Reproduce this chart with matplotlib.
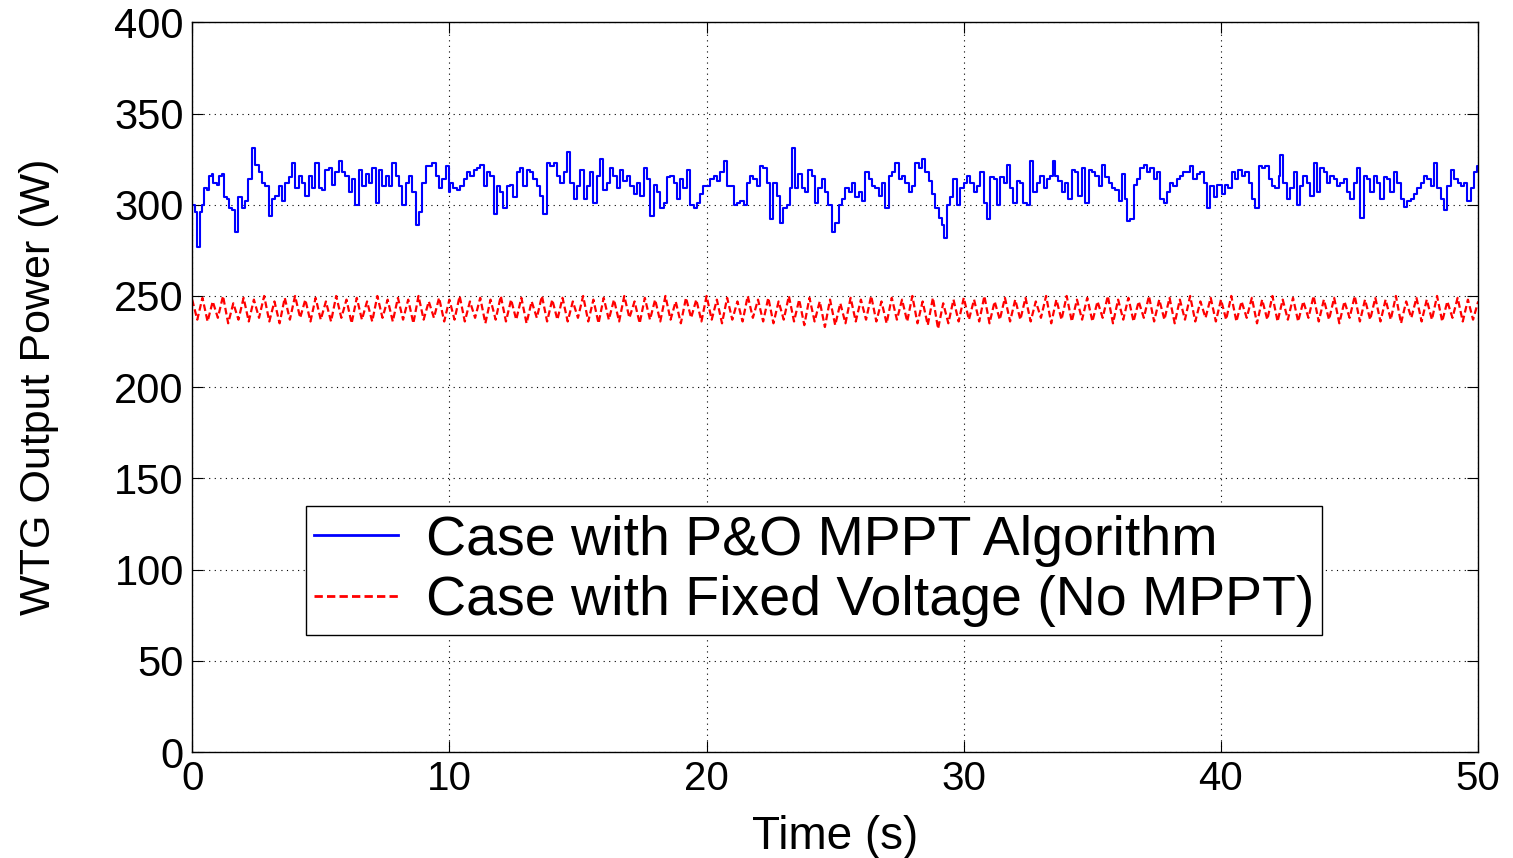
import matplotlib
matplotlib.use("Agg")
import matplotlib.pyplot as plt
import numpy as np

plt.rcParams["font.family"] = ["Liberation Sans", "DejaVu Sans"]

# Potencia con P&O MPPT (tiempo en s, potencia en W)
t_blue = [
    0.0, 0.1, 0.17, 0.3, 0.38, 0.45, 0.57, 0.64, 0.77, 0.83, 0.96, 1.03, 1.16, 1.22, 1.35, 1.42, 1.55, 1.68, 1.8, 1.94,
    2.06, 2.19, 2.32, 2.45, 2.58, 2.71, 2.84, 2.97, 3.1, 3.23, 3.36, 3.49, 3.62, 3.75, 3.88, 4.0, 4.14, 4.27, 4.4, 4.53,
    4.66, 4.79, 4.92, 5.05, 5.18, 5.31, 5.44, 5.57, 5.7, 5.83, 5.96, 6.09, 6.22, 6.35, 6.48, 6.61, 6.74, 6.87, 7.0, 7.13,
    7.26, 7.39, 7.52, 7.65, 7.78, 7.91, 8.04, 8.17, 8.3, 8.43, 8.56, 8.69, 8.82, 8.95, 9.08, 9.21, 9.34, 9.47, 9.6, 9.73,
    9.86, 9.99,
    10.03, 10.16, 10.29, 10.42, 10.55, 10.68, 10.81, 10.94, 11.07, 11.2, 11.33, 11.46, 11.59, 11.72, 11.85, 11.97, 12.1,
    12.23, 12.36, 12.49, 12.62, 12.75, 12.88, 13.01, 13.14, 13.27, 13.4, 13.53, 13.66, 13.79, 13.92, 14.05, 14.18, 14.3,
    14.44, 14.57, 14.7, 14.83, 14.96, 15.09, 15.22, 15.34, 15.47, 15.6, 15.73, 15.86, 15.99, 16.12, 16.25, 16.38, 16.51,
    16.64, 16.77, 16.9, 17.03, 17.16, 17.29, 17.42, 17.55, 17.68, 17.81, 17.94, 18.07, 18.2, 18.33, 18.46, 18.59, 18.72,
    18.85, 18.98, 19.1, 19.24, 19.37, 19.5, 19.63, 19.75, 19.88,
    20.01, 20.14, 20.27, 20.4, 20.53, 20.66, 20.79, 20.92, 21.05, 21.18, 21.31, 21.44, 21.56, 21.69, 21.82, 21.95, 22.08,
    22.21, 22.34, 22.47, 22.6, 22.73, 22.86, 22.99, 23.12, 23.25, 23.31, 23.44, 23.57, 23.7, 23.83, 23.96, 24.09, 24.22,
    24.35, 24.48, 24.61, 24.74, 24.87, 25.0, 25.13, 25.26, 25.39, 25.52, 25.65, 25.78, 25.91, 26.04, 26.17, 26.3, 26.43,
    26.56, 26.69, 26.82, 26.95, 27.08, 27.21, 27.34, 27.47, 27.6, 27.73, 27.86, 27.99, 28.12, 28.25, 28.38, 28.51, 28.64,
    28.77, 28.9, 29.03, 29.16, 29.22, 29.35, 29.48, 29.6, 29.74, 29.87,
    30.0, 30.12, 30.25, 30.38, 30.51, 30.64, 30.77, 30.9, 31.03, 31.16, 31.29, 31.42, 31.55, 31.68, 31.8, 31.93, 32.06,
    32.2, 32.32, 32.45, 32.58, 32.71, 32.84, 32.97, 33.1, 33.23, 33.36, 33.45, 33.55, 33.68, 33.81, 33.94, 34.07, 34.2,
    34.33, 34.46, 34.59, 34.72, 34.85, 34.98, 35.11, 35.24, 35.37, 35.5, 35.63, 35.76, 35.89, 36.02, 36.15, 36.28, 36.34,
    36.47, 36.6, 36.73, 36.86, 36.99, 37.12, 37.25, 37.38, 37.51, 37.64, 37.77, 37.9, 38.03, 38.15, 38.28, 38.41, 38.54,
    38.67, 38.8, 38.93, 39.06, 39.19, 39.32, 39.45, 39.58, 39.71, 39.84,
    40.03, 40.16, 40.29, 40.42, 40.55, 40.68, 40.81, 40.94, 41.07, 41.2, 41.33, 41.46, 41.59, 41.72, 41.85, 41.98, 42.1,
    42.24, 42.3, 42.43, 42.56, 42.7, 42.82, 42.95, 43.08, 43.2, 43.34, 43.47, 43.6, 43.73, 43.86, 43.99, 44.12, 44.25,
    44.38, 44.5, 44.64, 44.77, 44.9, 45.03, 45.16, 45.29, 45.42, 45.55, 45.68, 45.8, 45.94, 46.07, 46.2, 46.33, 46.46,
    46.59, 46.72, 46.85, 46.98, 47.1, 47.24, 47.37, 47.5, 47.63, 47.76, 47.9, 48.02, 48.15, 48.28, 48.41, 48.54, 48.67,
    48.8, 48.93, 49.06, 49.2, 49.32, 49.45, 49.58, 49.71, 49.84, 49.97, 50.0,
]
p_blue = [
    300, 296, 277, 296, 300, 309, 308, 316, 317, 312, 311, 316, 317, 304, 303, 298, 297, 285, 304, 298,
    302, 314, 331, 322, 318, 312, 310, 294, 303, 305, 310, 302, 312, 315, 323, 309, 316, 312, 305, 316,
    309, 323, 309, 308, 319, 320, 311, 318, 324, 318, 316, 307, 314, 300, 319, 310, 317, 312, 320, 301,
    319, 310, 316, 310, 323, 316, 310, 300, 312, 316, 307, 289, 296, 312, 321, 321, 323, 316, 309, 314,
    321, 307,
    312, 309, 308, 310, 314, 318, 316, 319, 320, 322, 310, 318, 316, 295, 310, 307, 298, 310, 311, 304,
    318, 320, 310, 319, 318, 314, 310, 305, 295, 323, 321, 323, 316, 312, 318, 329, 312, 303, 310, 319,
    303, 310, 318, 301, 316, 325, 308, 312, 320, 316, 309, 319, 313, 316, 310, 306, 312, 305, 320, 314,
    294, 311, 307, 298, 301, 315, 316, 312, 303, 314, 309, 319, 300, 298, 301, 306, 310,
    310, 314, 316, 313, 318, 324, 310, 310, 300, 301, 302, 300, 312, 316, 314, 310, 321, 320, 312, 292,
    312, 305, 290, 298, 300, 309, 331, 309, 317, 309, 307, 319, 316, 301, 309, 314, 307, 300, 285, 290,
    300, 303, 309, 307, 312, 304, 307, 302, 318, 314, 310, 309, 305, 312, 298, 316, 318, 323, 314, 316,
    312, 307, 310, 323, 320, 325, 318, 313, 306, 298, 293, 289, 282, 300, 304, 314, 300, 309,
    312, 316, 312, 307, 310, 318, 301, 292, 315, 314, 300, 315, 312, 322, 309, 301, 313, 312, 301, 300,
    324, 307, 312, 316, 309, 314, 316, 324, 316, 313, 307, 312, 303, 319, 318, 305, 320, 301, 319, 318,
    316, 310, 322, 315, 312, 309, 308, 302, 317, 303, 291, 292, 311, 314, 320, 322, 318, 320, 314, 318,
    303, 301, 307, 312, 310, 314, 316, 318, 318, 321, 314, 317, 318, 312, 298, 310, 304, 311,
    306, 311, 309, 318, 314, 319, 316, 318, 312, 303, 298, 321, 320, 321, 314, 310, 309, 316, 327, 312,
    303, 309, 318, 300, 310, 316, 312, 305, 323, 307, 320, 318, 312, 316, 314, 310, 312, 314, 307, 303,
    312, 320, 293, 316, 314, 307, 316, 312, 303, 315, 314, 307, 318, 312, 303, 299, 302, 303, 306, 309,
    312, 316, 314, 310, 323, 309, 303, 297, 310, 319, 314, 312, 310, 312, 302, 309, 318, 321, 320,
]

# Potencia con tension fija (sin MPPT), muestras cada 0.2 s
p_red = [
    248, 237, 249, 236, 247, 238, 250, 235, 246, 237,
    249, 236, 248, 238, 250, 236, 247, 235, 249, 237,
    250, 238, 248, 236, 249, 237, 247, 236, 250, 238,
    248, 235, 249, 237, 247, 236, 250, 238, 248, 236,
    249, 237, 248, 235, 250, 237, 247, 238, 249, 236,
    248, 237, 250, 236, 247, 238, 249, 235, 248, 237,
    250, 236, 248, 237, 249, 235, 247, 238, 250, 236,
    248, 237, 249, 236, 247, 238, 250, 236, 248, 235,
    249, 237, 248, 236, 250, 238, 247, 235, 249, 237,
    248, 236, 250, 237, 247, 235, 249, 238, 248, 236,
    250, 237, 248, 235, 249, 237, 247, 236, 250, 238,
    248, 236, 249, 235, 247, 237, 250, 236, 248, 234,
    249, 236, 247, 233, 248, 234, 246, 235, 249, 236,
    248, 237, 250, 236, 247, 235, 249, 237, 248, 236,
    250, 235, 247, 234, 249, 232, 246, 235, 248, 236,
    249, 237, 248, 236, 250, 235, 247, 237, 249, 236,
    248, 237, 249, 236, 247, 238, 250, 235, 248, 237,
    250, 236, 248, 237, 249, 236, 247, 238, 250, 235,
    248, 237, 249, 236, 247, 238, 250, 236, 248, 237,
    249, 235, 248, 237, 250, 236, 247, 238, 249, 236,
    248, 237, 250, 236, 247, 238, 249, 235, 248, 237,
    250, 236, 248, 237, 249, 236, 247, 238, 250, 236,
    248, 237, 249, 235, 247, 238, 250, 236, 248, 237,
    249, 236, 248, 237, 250, 235, 247, 238, 249, 236,
    248, 237, 250, 236, 247, 238, 249, 236, 248, 237,
    247,
]
t_red = np.linspace(0, 50, len(p_red))

etiquetas = ["Case with P&O MPPT Algorithm", "Case with Fixed Voltage (No MPPT)"]
ticks_x = [0, 10, 20, 30, 40, 50]
ticks_y = [0, 50, 100, 150, 200, 250, 300, 350, 400]

fig = plt.figure(figsize=(15.13, 8.58), dpi=100)
ax = fig.add_axes([0.127, 0.1235, 0.850, 0.8505])

ax.plot(t_blue, p_blue, color="blue", lw=1.5, drawstyle="steps-post", label=etiquetas[0])
ax.plot(t_red, p_red, color="red", lw=1.6, linestyle=(0, (3, 1.5)), label=etiquetas[1])

ax.set_xlim(0, 50)
ax.set_ylim(0, 400)
ax.set_xticks(ticks_x)
ax.set_yticks(ticks_y)
ax.grid(True, color="black", linestyle=(0, (1, 4)), lw=0.8)
ax.tick_params(direction="in", top=True, right=True, length=8, pad=6)
ax.tick_params(axis="y", labelsize=30)
ax.tick_params(axis="x", labelsize=29)
for s in ax.spines.values():
    s.set_linewidth(1.0)

ax.set_xlabel("Time (s)", fontsize=33, labelpad=12)
ax.set_ylabel("WTG Output Power (W)", fontsize=31, labelpad=40)

leg = ax.legend(loc="lower left", bbox_to_anchor=(0.0886, 0.160), fontsize=40,
                frameon=True, fancybox=False, edgecolor="black", framealpha=1,
                handlelength=1.5, handletextpad=0.5, labelspacing=0.15, borderpad=0.15,
                borderaxespad=0)
leg.get_frame().set_linewidth(1.0)
for linea in leg.get_lines():
    linea.set_linewidth(2.0)

fig.savefig("out.png", dpi=100)
